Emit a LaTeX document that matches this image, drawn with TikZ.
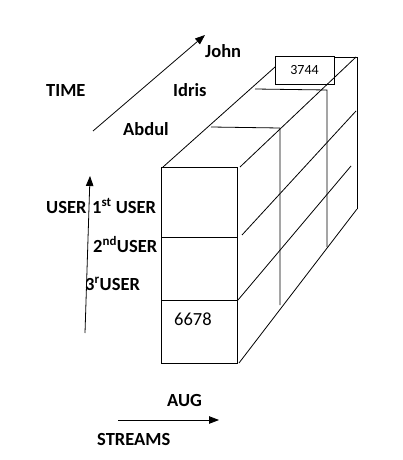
\documentclass[tikz,border=0pt]{standalone}
\usepackage{fontspec}
\setmainfont{Carlito}
\usetikzlibrary{shapes,arrows.meta,positioning}

\tikzset{
  lbl/.style={font=\bfseries\fontsize{18.5}{20}\selectfont, anchor=base west, inner sep=0pt},
  val/.style={font=\fontsize{18.5}{20}\selectfont, anchor=base west, inner sep=0pt},
  edge/.style={black, line width=0.8pt}
}

\begin{document}
\begin{tikzpicture}[x=1pt, y=-1pt, >={Triangle[length=10pt,width=7.5pt]}]
\useasboundingbox (0,0) rectangle (403,460);

% front face
\draw[edge] (161,167) rectangle (237,363);
\draw[edge] (161,237) -- (237,237);
\draw[edge] (161,300) -- (237,300);

% receding lines
\draw[edge] (163,167) -- (275,67);
\draw[edge] (240,167) -- (356,57);
\draw[edge] (242,235) -- (356,111);
\draw[edge] (238,300) -- (351,166);
\draw[edge] (239,363) -- (357,209);
\draw[edge] (334,57) -- (357,57) -- (357,209);

% inner grid
\draw[edge] (211,127) -- (280,128) -- (280,305);
\draw[edge] (255,89) -- (327,90) -- (327,247);

% cell value at the back
\node[draw, edge, minimum width=59pt, minimum height=28pt, inner sep=0pt,
      font=\fontsize{14}{16}\selectfont] (cell) at (304.5,70) {3744};

% axes
\coordinate (timeS) at (93,131);
\coordinate (timeE) at (205,35);
\draw[edge, ->] (timeS) -- (timeE);
\coordinate (userS) at (85,333);
\coordinate (userE) at (90,176);
\draw[edge, ->] (userS) -- (userE);
\coordinate (strS) at (118,420);
\coordinate (strE) at (219,420);
\draw[edge, ->] (strS) -- (strE);

% labels
\node[lbl] (time) at (46,96) {TIME};
\node[lbl] (john) at (205,57) {John};
\node[lbl] (idris) at (173,96) {Idris};
\node[lbl] (abdul) at (123,135) {Abdul};
\node[lbl] (user) at (46,213) {USER};
\node[lbl] (user1) at (92,213) {1\textsuperscript{st} USER};
\node[lbl] (user2) at (93,252) {2\textsuperscript{nd}USER};
\node[lbl] (user3) at (85,290) {3\textsuperscript{r}USER};
\node[val] (v6678) at (174,325) {6678};
\node[lbl] (aug) at (167,406) {AUG};
\node[lbl] (streams) at (97,445) {STREAMS};

\end{tikzpicture}
\end{document}
